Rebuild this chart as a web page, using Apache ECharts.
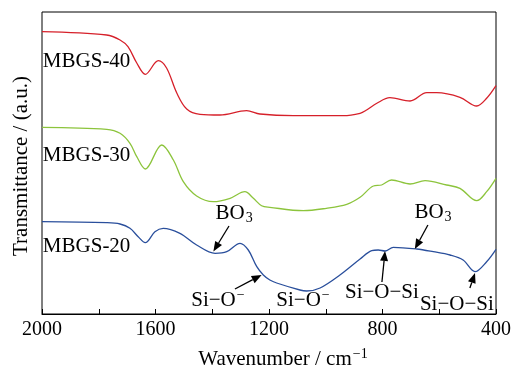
<!DOCTYPE html>
<html>
<head>
<meta charset="utf-8">
<script src="https://cdn.jsdelivr.net/npm/echarts@6/dist/echarts.min.js"></script>
<style>
  html, body { margin: 0; padding: 0; background: #fff; }
  #chart { width: 516px; height: 371px; }
</style>
</head>
<body>
<div id="chart"></div>
<script>
// FTIR spectra of the MBGS glasses, vertically offset (arbitrary units).
// Each point is [wavenumber (cm^-1), offset transmittance].
const mbgs40 = [
  [2000, 282.3], [1772, 279], [1725, 274], [1697, 267.3], [1666, 251],
  [1636, 239.7], [1590, 253.3], [1561, 246], [1525, 221], [1490, 205],
  [1443, 199.7], [1373, 199], [1279, 203.3], [1232, 200], [1114, 198.3],
  [938, 198.3], [879, 200.7], [856, 204], [820, 210.7], [774, 216.3],
  [703, 213], [644, 221.3], [609, 221.3], [527, 216.7], [468, 208],
  [433, 215.7], [400, 228.3]
];
const mbgs30 = [
  [2000, 186.7], [1772, 184.7], [1725, 180.7], [1690, 170.7], [1666, 157.3],
  [1636, 145], [1578, 169], [1537, 154], [1502, 132.3], [1455, 118],
  [1396, 112.3], [1337, 115.7], [1285, 122.3], [1255, 115.7], [1226, 108.3],
  [1197, 106.7], [1079, 103.3], [998, 105.7], [926, 109.7], [879, 116.7],
  [832, 128], [803, 129], [768, 134], [703, 130], [650, 133.3],
  [574, 129], [527, 125.7], [468, 113.3], [433, 122.3], [400, 135.7]
];
const mbgs20 = [
  [2000, 92.3], [1772, 91.3], [1725, 90], [1690, 85.7], [1661, 77.3],
  [1636, 71.3], [1602, 82.3], [1573, 85.7], [1514, 80.7], [1455, 69],
  [1390, 60.7], [1349, 62.3], [1302, 70.7], [1273, 64], [1243, 47.3],
  [1220, 39], [1197, 34], [1173, 31], [1091, 24], [1067, 23],
  [1020, 26], [950, 39], [879, 55], [838, 63.3], [815, 64],
  [791, 63], [762, 66.7], [680, 65], [621, 62.3], [562, 59],
  [516, 54], [474, 42.3], [433, 52.3], [400, 64.7]
];

const seriesNames = ['MBGS-40', 'MBGS-30', 'MBGS-20'];
const seriesColors = ['#d6202a', '#8cc43c', '#2a4f9c'];
// anchor of each spectrum's name: [wavenumber, y]
const nameAnchors = [[1997, 253], [1997, 159], [1997, 68]];

const xTicks = [2000, 1600, 1200, 800, 400];

// Band assignments: label (main text + optional sub/superscript),
// text centre, arrow tail and arrow tip in data units.
const bands = [
  { main: 'BO',    sub: '3', at: [1323, 101], from: [1341, 88], to: [1396, 62.5] },
  { main: 'Si−O',  sup: '−', at: [1380, 14],  from: [1320, 25], to: [1226, 39] },
  { main: 'Si−O',  sup: '−', at: [1080, 14] },
  { main: 'Si−O−Si',         at: [802, 22],   from: [802, 32],  to: [791, 63] },
  { main: 'BO',    sub: '3', at: [622, 102],  from: [640, 89],  to: [686, 65] },
  { main: 'Si−O−Si',         at: [538, 10],   from: [492, 26],  to: [474, 41] }
];

const FONT = '"Liberation Serif", "Times New Roman", serif';
const TEXT_SIZE = 21;
const SMALL_SIZE = 14;
const chart = echarts.init(document.getElementById('chart'), null, { renderer: 'canvas' });

const spectra = [mbgs40, mbgs30, mbgs20];

chart.setOption({
  animation: false,
  backgroundColor: '#fff',
  grid: { left: 42, right: 20, top: 12, bottom: 57, show: true, borderColor: '#000', borderWidth: 1 },
  xAxis: {
    type: 'value',
    inverse: true,
    min: 400, max: 2000, interval: 400,
    axisLine: { show: true, lineStyle: { color: '#000', width: 1 } },
    axisTick: { show: true, inside: true, length: 5, lineStyle: { color: '#000' } },
    minorTick: { show: true, splitNumber: 2, length: 5, lineStyle: { color: '#000' } },
    splitLine: { show: false },
    axisLabel: {
      margin: 6, color: '#000', fontFamily: FONT, fontSize: 20,
      formatter: v => (xTicks.indexOf(v) >= 0 ? String(v) : '')
    }
  },
  yAxis: {
    type: 'value', min: 0, max: 302,
    axisLine: { show: false }, axisTick: { show: false },
    axisLabel: { show: false }, splitLine: { show: false }
  },
  series: spectra.map((d, i) => ({
    name: seriesNames[i],
    type: 'line',
    data: d,
    smooth: 0.35,
    showSymbol: false,
    lineStyle: { color: seriesColors[i], width: 1.3 },
    z: 3
  }))
});

function px(p) { return chart.convertToPixel({ gridIndex: 0 }, p); }

// text width measurement for placing sub/superscripts
const measureCtx = document.createElement('canvas').getContext('2d');
function textWidth(str, size) {
  measureCtx.font = size + 'px ' + FONT;
  return measureCtx.measureText(str).width;
}

function textEl(x, y, str, size, align, extra) {
  return Object.assign({
    type: 'text', x: x, y: y, z: 10,
    style: { text: str, fontFamily: FONT, fontSize: size, fill: '#000',
             align: align, verticalAlign: 'middle' }
  }, extra || {});
}

// main text with an optional subscript or superscript, centred on (cx, cy)
function labelEls(cx, cy, main, sub, sup) {
  const small = sub || sup || '';
  const wMain = textWidth(main, TEXT_SIZE);
  const wSmall = small ? textWidth(small, SMALL_SIZE) + 1 : 0;
  const left = cx - (wMain + wSmall) / 2;
  const out = [textEl(left, cy, main, TEXT_SIZE, 'left')];
  if (sub) out.push(textEl(left + wMain + 1, cy + 5, sub, SMALL_SIZE, 'left'));
  if (sup) out.push(textEl(left + wMain + 1, cy - 5, sup, SMALL_SIZE, 'left'));
  return out;
}

const elements = [];

// axis titles
elements.push(textEl(21, 166, 'Transmittance / (a.u.)', TEXT_SIZE, 'center', { rotation: Math.PI / 2 }));
labelEls(283, 359, 'Wavenumber / cm', null, '−1').forEach(e => elements.push(e));

// spectrum names
nameAnchors.forEach((a, i) => {
  const p = px(a);
  elements.push(textEl(p[0], p[1], seriesNames[i], TEXT_SIZE, 'left'));
});

// band labels with arrows
bands.forEach(b => {
  const t = px(b.at);
  labelEls(t[0], t[1], b.main, b.sub, b.sup).forEach(e => elements.push(e));
  if (b.from) {
    const s = px(b.from), e = px(b.to);
    const dx = e[0] - s[0], dy = e[1] - s[1];
    const len = Math.sqrt(dx * dx + dy * dy);
    const ux = dx / len, uy = dy / len;
    const headLen = 10, headHalf = 4;
    const bx = e[0] - ux * headLen, by = e[1] - uy * headLen;
    elements.push({
      type: 'line',
      shape: { x1: s[0], y1: s[1], x2: bx, y2: by },
      style: { stroke: '#000', lineWidth: 1.3 }, z: 10
    });
    elements.push({
      type: 'polygon',
      shape: { points: [
        [e[0], e[1]],
        [bx - uy * headHalf, by + ux * headHalf],
        [bx + uy * headHalf, by - ux * headHalf]
      ] },
      style: { fill: '#000' }, z: 10
    });
  }
});

chart.setOption({ graphic: { elements: elements } });
</script>
</body>
</html>
